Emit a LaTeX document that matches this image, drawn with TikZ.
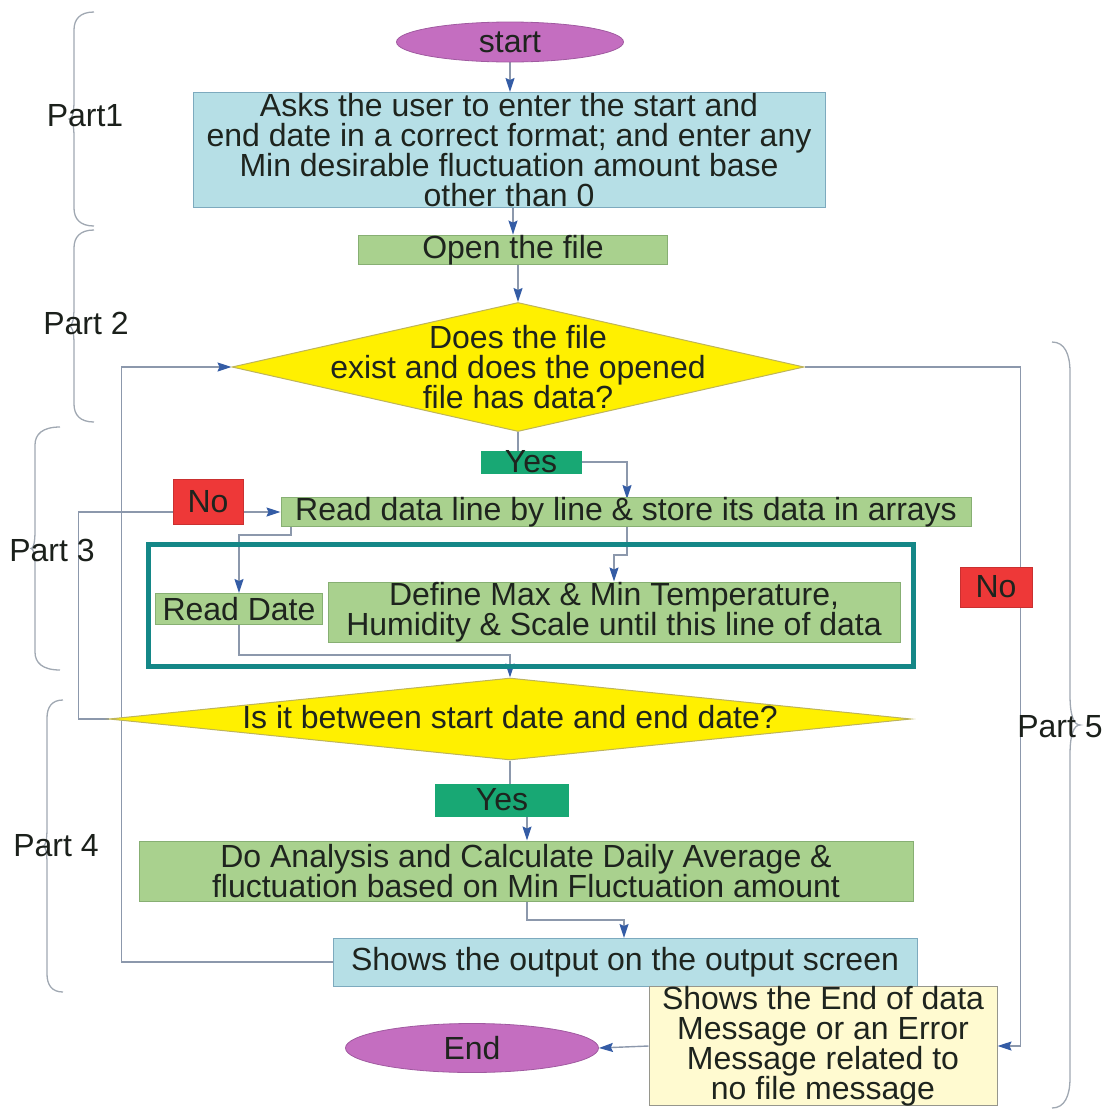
\documentclass[tikz,border=0pt]{standalone}
\usepackage{fontspec}
\setmainfont{Liberation Sans}
\usetikzlibrary{shapes.geometric,arrows.meta,calc}
\definecolor{txt}{RGB}{30,36,30}
\definecolor{lblue}{RGB}{182,223,230}
\definecolor{lblueb}{RGB}{125,170,190}
\definecolor{lgreen}{RGB}{169,209,142}
\definecolor{lgreenb}{RGB}{135,175,115}
\definecolor{yesg}{RGB}{24,168,116}
\definecolor{nored}{RGB}{238,56,56}
\definecolor{purp}{RGB}{196,110,192}
\definecolor{purpb}{RGB}{160,90,160}
\definecolor{yel}{RGB}{255,240,0}
\definecolor{yelb}{RGB}{190,180,90}
\definecolor{lyel}{RGB}{255,250,208}
\definecolor{msgb}{RGB}{150,150,140}
\definecolor{framec}{RGB}{20,135,135}
\definecolor{lineg}{RGB}{140,152,172}
\definecolor{arrowb}{RGB}{52,92,165}
\definecolor{braceg}{RGB}{160,168,178}
\pgfdeclarelayer{bg}
\pgfsetlayers{bg,main}
\newcommand{\BraceV}[6]{%
\draw[bracest] ({#1+(#4)},#2) .. controls ({#1+0.3*(#4)},#2) and (#1,{#2+0.4*(#6)}) .. (#1,{#2+(#6)})
 -- (#1,{(#2+#3)/2-(#6)}) .. controls (#1,{(#2+#3)/2-0.3*(#6)}) and ({#1-0.4*(#5)},{(#2+#3)/2}) .. ({#1-(#5)},{(#2+#3)/2})
 .. controls ({#1-0.4*(#5)},{(#2+#3)/2}) and (#1,{(#2+#3)/2+0.3*(#6)}) .. (#1,{(#2+#3)/2+(#6)})
 -- (#1,{#3-(#6)}) .. controls (#1,{#3-0.4*(#6)}) and ({#1+0.3*(#4)},#3) .. ({#1+(#4)},#3);}
\begin{document}
\begin{tikzpicture}[x=1pt,y=-1pt,
  every node/.style={font=\fontsize{32}{30}\selectfont, text=txt, inner sep=0pt, align=center},
  bluebox/.style={rectangle, fill=lblue, draw=lblueb, line width=1pt},
  greenbox/.style={rectangle, fill=lgreen, draw=lgreenb, line width=1pt},
  yesbox/.style={rectangle, fill=yesg, draw=yesg},
  nobox/.style={rectangle, fill=nored, draw=nored!85!black, line width=0.8pt},
  term/.style={ellipse, fill=purp, draw=purpb, line width=0.8pt},
  dia/.style={diamond, fill=yel, draw=yelb, line width=1pt},
  msgbox/.style={rectangle, fill=lyel, draw=msgb, line width=1pt},
  conn/.style={draw=lineg, line width=1.4pt},
  arr/.style={conn, -{Stealth[length=14pt,width=9pt,inset=2pt,color=arrowb]}},
  bracest/.style={draw=braceg, line width=1.3pt},
  partlbl/.style={text=txt!90!black}
]
\useasboundingbox (0,0) rectangle (1107,1112);

% braces
\BraceV{74}{12}{226}{20}{5}{18}
\BraceV{74}{230}{422}{20}{5}{18}
\BraceV{35}{427}{670}{25}{4}{18}
\BraceV{47}{700}{992}{16}{4}{18}
\BraceV{1070}{342}{1108}{-18}{-10}{30}
\node[partlbl] (p1) at (85,116) {Part1};
\node[partlbl] (p2) at (86,323) {Part 2};
\node[partlbl] (p3) at (52,550) {Part 3};
\node[partlbl] (p4) at (56,846) {Part 4};
\node[partlbl] (p5) at (1060,727) {Part 5};

% nodes
\node[term, minimum width=227, minimum height=40] (start) at (510,42) {start};
\node[bluebox, minimum width=632, minimum height=115] (box1) at (509,150) {Asks the user to enter the start and\\end date in a correct format; and enter any\\Min desirable fluctuation amount base\\other than 0};
\node[greenbox, minimum width=309, minimum height=25] (open) at (513,250) {Open the file};
\node[dia, minimum width=572, minimum height=129] (d1) at (518,367) {};
\node (d1t) at (518,367) {Does the file\\exist and does the opened\\file has data?};
\node[yesbox, minimum width=100, minimum height=18] (yes1) at (531,462) {Yes};
\node[greenbox, minimum width=690, minimum height=26] (readdata) at (626,512) {Read data line by line \& store its data in arrays};
\node[draw=framec, line width=5pt, minimum width=765, minimum height=122] (frame) at (531,605) {};
\node[greenbox, minimum width=167, minimum height=31] (readdate) at (239,609) {Read Date};
\node[greenbox, minimum width=572, minimum height=60] (define) at (614,612) {Define Max \& Min Temperature,\\Humidity \& Scale until this line of data};
\node[dia, minimum width=802, minimum height=82] (d2) at (510,719) {};
\node (d2t) at (510,717) {Is it between start date and end date?};
\node[yesbox, minimum width=133, minimum height=32] (yes2) at (502,800) {Yes};
\node[greenbox, minimum width=774, minimum height=60] (analysis) at (526,871) {Do Analysis and Calculate Daily Average \&\\fluctuation based on Min Fluctuation amount};
\node[bluebox, minimum width=584, minimum height=48] (shows) at (625,962) {Shows the output on the output screen};
\node[term, minimum width=253, minimum height=49] (end) at (472,1048) {End};
\node[msgbox, minimum width=348, minimum height=116] (msg) at (823,1046) {Shows the End of data\\Message or an Error\\Message related to\\no file message};
\node[nobox, minimum width=70, minimum height=45] (no1) at (208,502) {No};
\node[nobox, minimum width=72, minimum height=40] (no2) at (996,587) {No};

\coordinate (rdin) at (627,499);
\coordinate (rdo1) at (291,525);
\coordinate (rdo2) at (627,525);
\coordinate (y2o) at (527,816);
\coordinate (ano) at (527,901);
\coordinate (shin) at (624,938);

\begin{pgfonlayer}{bg}
\draw[arr] (start.south) -- (start.south |- box1.north);
\draw[arr] (open.north |- box1.south) -- (open.north);
\draw[arr] (d1.north |- open.south) -- (d1.north);
\draw[conn] (d1.south) -- (d1.south |- yes1.north);
\draw[arr] (yes1.east) -| (rdin);
\draw[arr] (rdo1) -- ++(0,10) -| (readdate.north);
\draw[arr] (rdo2) -- ++(0,30) -| (define.north);
\draw[arr] (readdate.south) -- ++(0,30) -| (d2.north);
\draw[arr] (d2.west) -- ++(-30,0) |- (readdata.west);
\draw[conn] (d2.south) -- (d2.south |- yes2.north);
\draw[arr] (y2o) -- (y2o |- analysis.north);
\draw[arr] (ano) -- ++(0,19) -| (shin);
\draw[arr] (shows.west) -| ($(d1.west)+(-110,0)$) -- (d1.west);
\draw[arr] (d1.east) -| ($(msg.east)+(23,0)$) -- (msg.east);
\draw[arr] (msg.west) -- (end.east);
\end{pgfonlayer}
\end{tikzpicture}
\end{document}
